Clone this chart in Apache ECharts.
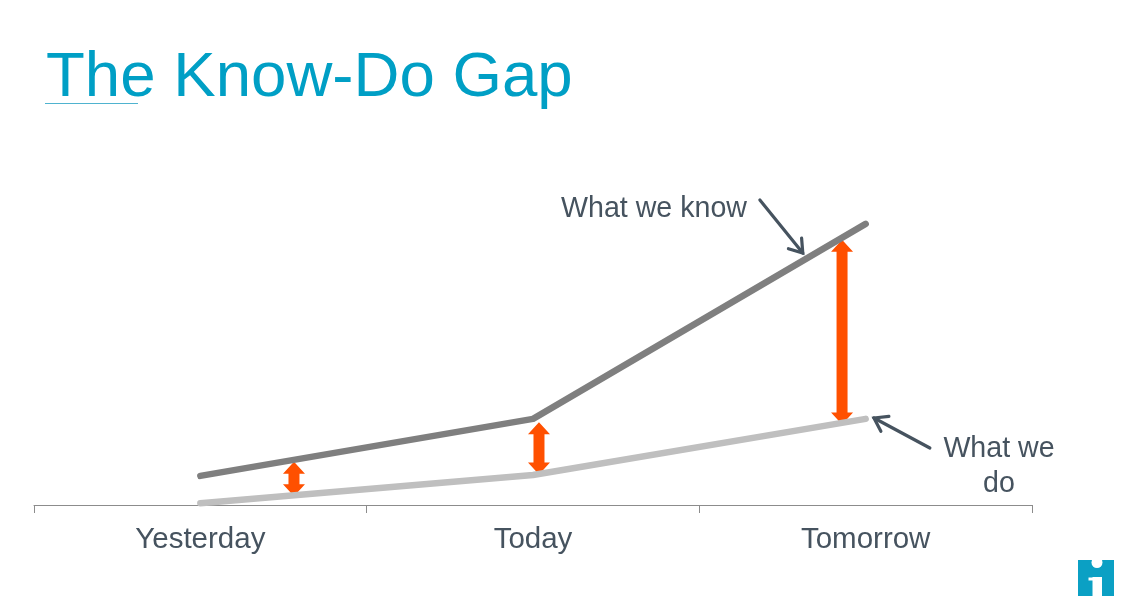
<!DOCTYPE html>
<html><head><meta charset="utf-8">
<style>html,body{margin:0;padding:0;background:#fff}#c{width:1124px;height:613px}</style>
<script src="https://cdn.jsdelivr.net/npm/echarts@6/dist/echarts.min.js"></script>
</head><body><div id="c"></div>
<script>
const categories = ['Yesterday', 'Today', 'Tomorrow'];
const whatWeKnow = [9.7, 28.7, 93.7];
const whatWeDo = [0.6, 10, 28.7];
// gap arrows: [position along the time axis, low value, high value]
const gapArrows = [[0.7815, 2.9, 14.4], [1.518, 10.2, 27.6], [2.429, 26.8, 88.4]];
// callout arrows: [from position, from value, to position, to value]
const callouts = [[2.182, 101.7, 2.311, 84], [2.693, 19, 2.525, 29]];

const FONT = '"Liberation Sans", Arial, sans-serif';
const TEXT = '#46535f';
const TEAL = '#009fc5';
const ORANGE = '#ff5000';

const chart = echarts.init(document.getElementById('c'), null, {renderer: 'canvas'});
chart.setOption({
  animation: false,
  backgroundColor: '#fff',
  title: {
    text: 'The Know-Do Gap', left: 41, top: 41,
    textStyle: {fontFamily: FONT, fontSize: 63.6, fontWeight: 'normal', color: TEAL}
  },
  grid: {left: 34, right: 92, top: 205, bottom: 108},
  xAxis: [
    {type: 'category', data: categories, boundaryGap: true,
     axisLine: {lineStyle: {color: '#8c8c8c', width: 1}},
     axisTick: {show: true, length: 8, lineStyle: {color: '#8c8c8c', width: 1}},
     axisLabel: {fontFamily: FONT, fontSize: 29.5, color: TEXT, margin: 20}},
    {type: 'value', min: 0, max: 3, show: false}
  ],
  yAxis: {type: 'value', min: 0, max: 100, show: false, splitLine: {show: false}},
  series: [
    {type: 'line', name: 'What we do', data: whatWeDo, symbol: 'none', clip: false,
     lineStyle: {color: '#bfbfbf', width: 6.5, cap: 'round', join: 'round'}},
    {type: 'line', name: 'What we know', data: whatWeKnow, symbol: 'none', clip: false,
     lineStyle: {color: '#7f7f7f', width: 6.5, cap: 'round', join: 'round'}},
    {type: 'custom', name: 'Gap', xAxisIndex: 1, data: gapArrows, clip: false,
     encode: {x: 0, y: [1, 2]},
     renderItem(params, api) {
       const low = api.coord([api.value(0), api.value(1)]);
       const high = api.coord([api.value(0), api.value(2)]);
       const x = low[0], yb = low[1], yt = high[1], s = 5.5, h = 11, hl = 12;
       return {type: 'polygon', shape: {points: [
         [x, yt], [x + h, yt + hl], [x + s, yt + hl], [x + s, yb - hl], [x + h, yb - hl],
         [x, yb], [x - h, yb - hl], [x - s, yb - hl], [x - s, yt + hl], [x - h, yt + hl]
       ]}, style: {fill: ORANGE}};
     }},
    {type: 'custom', name: 'Callouts', xAxisIndex: 1, data: callouts, clip: false,
     encode: {x: [0, 2], y: [1, 3]},
     renderItem(params, api) {
       const a = api.coord([api.value(0), api.value(1)]);
       const b = api.coord([api.value(2), api.value(3)]);
       const ang = Math.atan2(b[1] - a[1], b[0] - a[0]), L = 15, W = 0.6;
       const p = d => [b[0] - L * Math.cos(ang + d), b[1] - L * Math.sin(ang + d)];
       const st = {stroke: TEXT, lineWidth: 3.2, fill: null, lineCap: 'round', lineJoin: 'miter'};
       return {type: 'group', children: [
         {type: 'line', shape: {x1: a[0], y1: a[1], x2: b[0], y2: b[1]}, style: st},
         {type: 'polyline', shape: {points: [p(W), b, p(-W)]}, style: st}
       ]};
     }}
  ],
  graphic: [
    {type: 'rect', shape: {x: 45, y: 103, width: 93, height: 1}, style: {fill: '#4fb3cf', stroke: null}, silent: true},
    {type: 'text', x: 561, y: 195, style: {text: 'What we know', font: '28.6px ' + FONT, fill: TEXT}},
    {type: 'text', x: 999, y: 432, style: {text: 'What we\ndo', font: '28.6px ' + FONT, fill: TEXT, align: 'center', lineHeight: 35}},
    {type: 'group', x: 1078, y: 560, children: [
      {type: 'rect', shape: {x: 0, y: 0, width: 36, height: 36}, style: {fill: '#0ba0c4'}},
      {type: 'circle', shape: {cx: 19, cy: 2.5, r: 5.5}, style: {fill: '#fff'}},
      {type: 'rect', shape: {x: 14.5, y: 17, width: 9.5, height: 19}, style: {fill: '#fff'}},
      {type: 'rect', shape: {x: 10.5, y: 17.5, width: 5, height: 3}, style: {fill: '#fff'}}
    ]}
  ]
});
</script></body></html>
